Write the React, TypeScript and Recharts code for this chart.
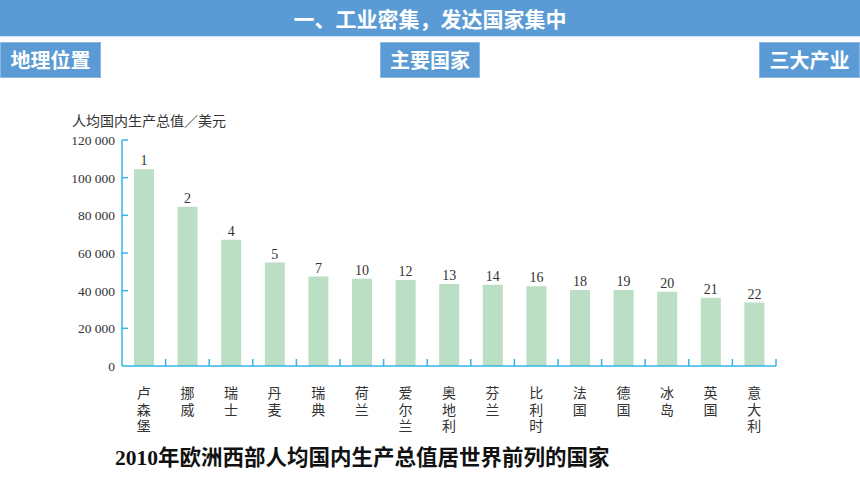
import React from "react";
import { BarChart, Bar, XAxis, YAxis, LabelList } from 'recharts';

const countries = ['卢森堡', '挪威', '瑞士', '丹麦', '瑞典', '荷兰', '爱尔兰', '奥地利', '芬兰', '比利时', '法国', '德国', '冰岛', '英国', '意大利'];
const gdpPerCapita = [104500, 84500, 67000, 54900, 47500, 46300, 45600, 43600, 43100, 42400, 40400, 40300, 39400, 36200, 33700];
const worldRank = [1, 2, 4, 5, 7, 10, 12, 13, 14, 16, 18, 19, 20, 21, 22];
const yTicks = [0, 20000, 40000, 60000, 80000, 100000, 120000];

const data = countries.map((name, i) => ({ name, gdp: gdpPerCapita[i], rank: worldRank[i] }));

const axisColor = '#35b5e6';
const serif = '"Liberation Serif", "DejaVu Serif", serif';
const cjk = '"Noto Sans CJK SC", sans-serif';

const fmt = (v: number) => String(v).replace(/\B(?=(\d{3})+(?!\d))/g, ' ');

const YTick = (props: any) => {
  const { x, y, payload } = props;
  const axisX = x + 7;
  return (
    <g>
      {payload.value !== 0 && <line x1={axisX} x2={axisX + 6} y1={y} y2={y} stroke={axisColor} strokeWidth={1.5} />}
      <text x={x} y={y} dy={5} textAnchor="end" fontFamily={serif} fontSize={13.5} fill="#333">{fmt(payload.value)}</text>
    </g>
  );
};

// vertical country names, one glyph per line; tick mark sits on the right edge of each band
const XTick = (props: any) => {
  const { x, y, payload } = props;
  const axisY = y;
  const edge = x + (payload.offset || 0);
  const chars = String(payload.value).split('');
  return (
    <g>
      <line x1={edge} x2={edge} y1={axisY} y2={axisY - 7} stroke={axisColor} strokeWidth={1.5} />
      {chars.map((c, i) => (
        <text key={i} x={x} y={axisY + 32 + i * 16.7} textAnchor="middle" fontFamily={cjk} fontSize={14} fill="#333">{c}</text>
      ))}
    </g>
  );
};

const App: React.FC = () => {
  return (
    <div style={{ position: 'fixed', left: 0, top: 0, width: 860, height: 484, background: '#fff', overflow: 'hidden' }}>
      <div style={{ position: 'absolute', left: 0, top: 0, width: 860, height: 36, background: '#5b9bd5', color: '#fff',
        fontFamily: cjk, fontWeight: 700, fontSize: 21, lineHeight: '36px', textAlign: 'center', borderBottom: '1px solid #cfe1f3' }}>
        一、工业密集，发达国家集中
      </div>
      {[['地理位置', 0, 101], ['主要国家', 380, 100], ['三大产业', 759, 101]].map(([t, l, w]) => (
        <div key={t as string} style={{ position: 'absolute', left: l as number, top: 42, width: (w as number) - 2, height: 34,
          background: '#5b9bd5', border: '1px solid #8cb8e4', color: '#fff', fontFamily: cjk, fontWeight: 700,
          fontSize: 20, lineHeight: '34px', textAlign: 'center' }}>{t}</div>
      ))}
      <div style={{ position: 'absolute', left: 72, top: 110, fontFamily: cjk, fontSize: 14, color: '#333', lineHeight: '20px' }}>
        人均国内生产总值／美元
      </div>
      <div style={{ position: 'absolute', left: 0, top: 0 }}>
        <BarChart width={860} height={484} data={data} margin={{ top: 140, right: 84, left: 62, bottom: 38 }}>
          <XAxis dataKey="name" height={80} tickSize={0} tickMargin={0} interval={0}
            axisLine={{ stroke: axisColor, strokeWidth: 1.5 }} tickLine={false} tick={<XTick />} />
          <YAxis width={60} domain={[0, 120000]} ticks={yTicks} tickSize={0} tickMargin={7}
            axisLine={{ stroke: axisColor, strokeWidth: 1.5 }} tickLine={false} tick={<YTick />} />
          <Bar dataKey="gdp" fill="#badfc5" barSize={20} isAnimationActive={false}>
            <LabelList dataKey="rank" position="top" offset={4} fill="#333" fontFamily={serif} fontSize={14} />
          </Bar>
        </BarChart>
      </div>
      <div style={{ position: 'absolute', left: 115, top: 445, fontFamily: serif + ', ' + cjk, fontWeight: 700, fontSize: 21.5,
        color: '#111', lineHeight: '26px', whiteSpace: 'nowrap' }}>
        2010年欧洲西部人均国内生产总值居世界前列的国家
      </div>
    </div>
  );
};

export default App;
